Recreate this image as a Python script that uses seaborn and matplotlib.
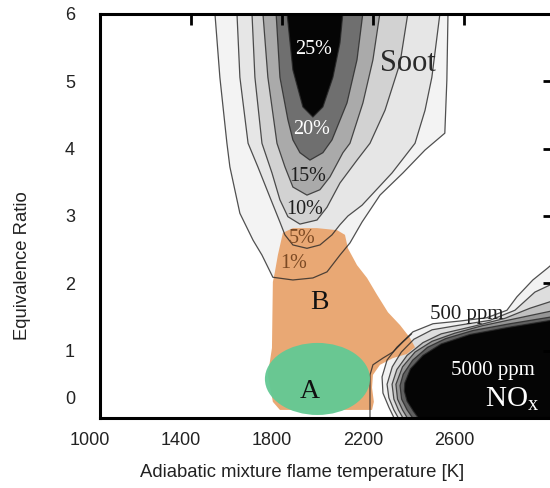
import matplotlib
matplotlib.use("Agg")
import matplotlib.pyplot as plt
import seaborn as sns
from matplotlib.patches import Ellipse
from matplotlib.transforms import ScaledTranslation

# ---------------- data ----------------
x_ticks = [1000, 1400, 1800, 2200, 2600]
x_tick_labels = ["1000", "1400", "1800", "2200", "2600"]
y_ticks = [0, 1, 2, 3, 4, 5, 6]
y_tick_labels = ["0", "1", "2", "3", "4", "5", "6"]

# soot iso-contours (temperature K, equivalence ratio)
soot01_T = [1505, 1527, 1558, 1571, 1615, 1673, 1712, 1760, 1848, 1936, 1998, 2055, 2099, 2152, 2231, 2332, 2429, 2516, 2525, 2530]
soot01_phi = [6.02, 5.06, 4.08, 3.73, 3.04, 2.64, 2.42, 2.09, 2.05, 2.08, 2.17, 2.42, 2.60, 2.91, 3.31, 3.64, 3.98, 4.23, 5.02, 6.02]
soot05_T = [1602, 1615, 1651, 1694, 1747, 1791, 1813, 1848, 1910, 1967, 2020, 2055, 2090, 2152, 2284, 2385, 2429, 2459, 2495]
soot05_phi = [6.02, 5.06, 4.08, 3.73, 3.28, 2.91, 2.72, 2.57, 2.52, 2.57, 2.72, 2.87, 3.00, 3.16, 3.64, 4.08, 4.57, 5.06, 6.02]
soot10_T = [1668, 1681, 1712, 1756, 1791, 1826, 1879, 1954, 1998, 2055, 2130, 2187, 2253, 2319, 2354]
soot10_phi = [6.02, 5.06, 4.08, 3.64, 3.24, 2.99, 2.88, 2.94, 3.13, 3.49, 3.83, 4.08, 4.57, 5.27, 6.02]
soot15_T = [1716, 1738, 1778, 1813, 1848, 1910, 1967, 2011, 2068, 2099, 2156, 2200, 2231]
soot15_phi = [6.02, 5.06, 4.08, 3.73, 3.43, 3.31, 3.39, 3.58, 3.94, 4.08, 4.68, 5.32, 6.02]
soot20_T = [1774, 1791, 1826, 1848, 1879, 1923, 1980, 2020, 2086, 2130, 2156]
soot20_phi = [6.02, 5.06, 4.43, 4.13, 3.94, 3.83, 3.94, 4.13, 4.68, 5.32, 6.02]
soot25_T = [1822, 1848, 1892, 1936, 1980, 2024, 2055, 2068]
soot25_phi = [6.02, 5.17, 4.62, 4.47, 4.62, 5.06, 5.57, 6.02]

# NOx iso-contours
nox0_T = [2187, 2187, 2200, 2244, 2288, 2332, 2370]
nox0_phi = [-0.05, 0.64, 0.79, 0.89, 0.98, 1.13, 1.25]
nox1_T = [3000, 2969, 2903, 2833, 2789, 2701, 2582, 2464, 2376, 2305, 2262, 2240, 2244, 2270, 2300]
nox1_phi = [2.32, 2.23, 2.05, 1.80, 1.60, 1.49, 1.44, 1.40, 1.28, 1.05, 0.86, 0.61, 0.37, 0.16, -0.05]
nox2_T = [3000, 2912, 2824, 2714, 2582, 2460, 2380, 2325, 2285, 2262, 2270, 2292, 2320]
nox2_phi = [2.01, 1.87, 1.60, 1.45, 1.38, 1.31, 1.17, 0.98, 0.76, 0.50, 0.30, 0.12, -0.05]
nox3_T = [3000, 2890, 2780, 2640, 2500, 2420, 2350, 2305, 2284, 2292, 2312, 2340]
nox3_phi = [1.75, 1.63, 1.48, 1.36, 1.25, 1.12, 0.93, 0.72, 0.50, 0.28, 0.12, -0.05]
nox4_T = [3000, 2846, 2680, 2560, 2460, 2385, 2330, 2301, 2308, 2330, 2360]
nox4_phi = [1.60, 1.49, 1.37, 1.26, 1.14, 0.98, 0.76, 0.50, 0.28, 0.12, -0.05]
nox5_T = [3000, 2802, 2640, 2520, 2440, 2375, 2333, 2319, 2326, 2350, 2385]
nox5_phi = [1.51, 1.40, 1.30, 1.18, 1.05, 0.86, 0.65, 0.48, 0.28, 0.12, -0.05]
nox6_T = [3000, 2802, 2626, 2500, 2420, 2365, 2340, 2338, 2350, 2378, 2410]
nox6_phi = [1.46, 1.35, 1.24, 1.10, 0.93, 0.73, 0.52, 0.40, 0.25, 0.10, -0.05]

# region B (orange) outline
regionB_T = [1804, 1848, 1954, 2042, 2077, 2090, 2130, 2174, 2218, 2266, 2319, 2363, 2385, 2349,
             2288, 2231, 2200, 2196, 2204, 2196, 1791, 1760, 1738, 1756, 1760, 1769, 1782]
regionB_phi = [2.75, 2.82, 2.82, 2.79, 2.72, 2.52, 2.27, 2.08, 1.83, 1.57, 1.38, 1.19, 1.05, 0.95,
               0.89, 0.79, 0.64, 0.45, 0.24, 0.12, 0.12, 0.24, 0.64, 1.04, 2.02, 2.17, 2.42]
# region A (green ellipse): centre T, centre phi, width K, height phi
regionA = [1956, 0.58, 462, 1.07]

# ---------------- plotting ----------------
sns.set_theme(style="white")
plt.rcParams["font.family"] = ["Liberation Sans", "DejaVu Sans"]
plt.rcParams["mathtext.fontset"] = "custom"
plt.rcParams["mathtext.rm"] = "Liberation Serif"

fig = plt.figure(figsize=(5.5, 4.88), dpi=100)
ax = fig.add_axes([100 / 550, 70 / 488, 454 / 550, 404 / 488])

LINE = dict(color="#262626", alpha=0.8, lw=0.9)

soot = [(soot01_T, soot01_phi, "#f3f3f3"), (soot05_T, soot05_phi, "#e6e6e6"),
        (soot10_T, soot10_phi, "#d2d2d2"), (soot15_T, soot15_phi, "#aaaaaa"),
        (soot20_T, soot20_phi, "#6f6f6f"), (soot25_T, soot25_phi, "#050505")]
for i, (T, p, c) in enumerate(soot):
    ax.fill(T + [T[-1], T[0]], p + [6.6, 6.6], color=c, lw=0, zorder=1 + i * 0.01)
    sns.lineplot(x=T, y=p, sort=False, estimator=None, ax=ax, zorder=4, **LINE)

nox = [(nox1_T, nox1_phi, "#f2f2f2"), (nox2_T, nox2_phi, "#dedede"),
       (nox3_T, nox3_phi, "#c0c0c0"), (nox4_T, nox4_phi, "#959595"),
       (nox5_T, nox5_phi, "#606060"), (nox6_T, nox6_phi, "#050505")]
for i, (T, p, c) in enumerate(nox):
    ax.fill(T + [3150, 3150], p + [-1.0, p[0]], color=c, lw=0, zorder=1.5 + i * 0.01)
    sns.lineplot(x=T, y=p, sort=False, estimator=None, ax=ax, zorder=4, **LINE)
sns.lineplot(x=nox0_T, y=nox0_phi, sort=False, estimator=None, ax=ax, zorder=4, **LINE)

ax.fill(regionB_T, regionB_phi, color="#e9a874", lw=0, zorder=3)
ax.add_patch(Ellipse((regionA[0], regionA[1]), regionA[2], regionA[3],
                     facecolor="#62c994", edgecolor="none", alpha=0.95, zorder=5))

serif = ["Liberation Serif", "DejaVu Serif"]
txt = dict(ha="center", va="center", family=serif, zorder=7)
ax.text(1941, 5.47, "25%", color="white", fontsize=14.5, **txt)
ax.text(1932, 4.28, "20%", color="white", fontsize=14.5, **txt)
ax.text(1914, 3.58, "15%", color="#1e1e1e", fontsize=14.5, **txt)
ax.text(1901, 3.09, "10%", color="#1e1e1e", fontsize=14.5, **txt)
ax.text(1888, 2.66, "5%", color="#7c4a24", fontsize=14.5, **txt)
ax.text(1853, 2.30, "1%", color="#7c4a24", fontsize=14.5, **txt)
ax.text(2354, 5.26, "Soot", color="#2a2a2a", fontsize=22, **txt)
ax.text(1967, 1.72, "B", color="#111111", fontsize=20, **txt)
ax.text(1923, 0.40, "A", color="#111111", fontsize=20, **txt)
ax.text(2613, 1.54, "500 ppm", color="#1e1e1e", fontsize=15, **txt)
ax.text(2727, 0.70, "5000 ppm", color="white", fontsize=15, **txt)
ax.text(2811, 0.27, r"$\mathrm{NO_x}$", color="white", fontsize=21, **txt)

ax.set_xlim(1000, 2996)
ax.set_ylim(0, 6)
ax.set_xticks(x_ticks)
ax.set_xticklabels(x_tick_labels)
ax.set_yticks(y_ticks)
ax.set_yticklabels(y_tick_labels)
ax.tick_params(axis="both", direction="in", length=8, width=2, color="black",
               labelcolor="#222222", labelsize=13, top=True, right=True)
ax.tick_params(axis="x", pad=10)
ax.tick_params(axis="y", pad=18)
for lab in ax.get_xticklabels():
    lab.set_transform(lab.get_transform() + ScaledTranslation(-0.10, 0, fig.dpi_scale_trans))
ylabs = ax.get_yticklabels()
ylabs[0].set_transform(ylabs[0].get_transform() + ScaledTranslation(0, 0.20, fig.dpi_scale_trans))

for s in ax.spines.values():
    s.set_linewidth(2.2)
    s.set_color("black")
    s.set_zorder(10)
ax.xaxis.set_zorder(10)
ax.yaxis.set_zorder(10)

ax.set_xlabel("Adiabatic mixture flame temperature [K]", fontsize=13.3, color="#222222")
ax.set_ylabel("Equivalence Ratio", fontsize=13.3, color="#222222")
ax.xaxis.set_label_coords(0.445, -0.114)
ax.yaxis.set_label_coords(-0.152, 0.376)
ax.grid(False)

fig.savefig("out.png", dpi=100)
